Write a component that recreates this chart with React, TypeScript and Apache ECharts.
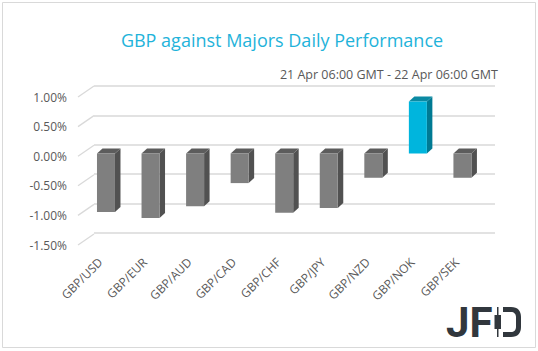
import React, { useEffect, useRef } from "react";
import * as echarts from "echarts";

const categories = ["GBP/USD", "GBP/EUR", "GBP/AUD", "GBP/CAD", "GBP/CHF", "GBP/JPY", "GBP/NZD", "GBP/NOK", "GBP/SEK"];
const performance = [-0.99, -1.09, -0.89, -0.5, -1.0, -0.92, -0.41, 0.88, -0.41];
const yTicks = [-1.5, -1.0, -0.5, 0, 0.5, 1.0];
const titleText = "GBP against Majors Daily Performance";
const subtitleText = "21 Apr 06:00 GMT - 22 Apr 06:00 GMT";

const FONT = "'Open Sans', 'Noto Sans', sans-serif";

// 3D geometry (pixels)
const WALL_DX = 16;
const WALL_DY = -11;
const BAR_OX = 5.7;
const BAR_OY = -2.7;
const BAR_W = 18;
const BAR_DX = 5.5;
const BAR_DY = -5;

echarts.graphic.registerShape(
  "jfdBowl",
  echarts.graphic.extendPath(
    "M0,0 L8,0 C15,0 18,4 18,10 L18,20 C18,26 15,30 8,30 L0,30 L0,25 L8,25 C11,25 13,23 13,20 L13,10 C13,7 11,5 8,5 L0,5 Z",
    {}
  )
);

export default function App() {
  const ref = useRef<HTMLDivElement>(null);
  useEffect(() => {
    if (!ref.current) return;
    const chart = echarts.init(ref.current, null, { renderer: "svg" });
    const barData = performance.map((v, i) => [i, v]);
    const wallData = yTicks.map((v) => [0, v]);
    const option: any = {
      animation: false,
      backgroundColor: "#ffffff",
      grid: [
        { left: 78, top: 97, width: 401, height: 148 },
        { left: 94, top: 86, width: 401, height: 147 },
      ],
      xAxis: [
        {
          type: "category",
          gridIndex: 0,
          data: categories,
          axisLine: { show: false },
          axisTick: { show: false },
          axisLabel: { rotate: 45, margin: 15, color: "#595959", fontSize: 12, fontFamily: FONT, interval: 0 },
        },
        { type: "category", gridIndex: 1, data: categories, show: false },
      ],
      yAxis: [
        {
          type: "value",
          gridIndex: 0,
          min: -1.5,
          max: 1.0,
          interval: 0.5,
          axisLine: { show: false },
          axisTick: { show: false },
          splitLine: { show: false },
          axisLabel: {
            margin: 11,
            color: "#595959",
            fontSize: 12,
            fontFamily: FONT,
            formatter: (v: number) => v.toFixed(2) + "%",
          },
        },
        {
          type: "value",
          gridIndex: 1,
          min: -1.5,
          max: 1.0,
          interval: 0.5,
          axisLine: { show: false },
          axisTick: { show: false },
          axisLabel: { show: false },
          splitLine: { show: true, lineStyle: { color: "#d9d9d9", width: 1.5 } },
        },
      ],
      series: [
        {
          type: "custom",
          name: "wall",
          xAxisIndex: 0,
          yAxisIndex: 0,
          data: wallData,
          z: 1,
          silent: true,
          renderItem: (params: any, api: any) => {
            const p = api.coord([0, api.value(1)]);
            const bw = api.size([1, 0])[0];
            const left = p[0] - bw / 2;
            return {
              type: "line",
              shape: { x1: left, y1: p[1], x2: left + WALL_DX, y2: p[1] + WALL_DY },
              style: { stroke: "#d9d9d9", lineWidth: 1.3 },
            };
          },
        },
        {
          type: "custom",
          name: "GBP",
          xAxisIndex: 0,
          yAxisIndex: 0,
          data: barData,
          z: 5,
          encode: { x: 0, y: 1 },
          renderItem: (params: any, api: any) => {
            const i = api.value(0);
            const v = api.value(1);
            const p0 = api.coord([i, 0]);
            const p1 = api.coord([i, v]);
            const cx = p0[0] + BAR_OX;
            const yz = p0[1] + BAR_OY;
            const yv = p1[1] + BAR_OY;
            const top = Math.min(yz, yv);
            const bot = Math.max(yz, yv);
            const xl = cx - BAR_W / 2;
            const xr = cx + BAR_W / 2;
            const pos = v > 0;
            const front = pos ? "#00b5dd" : "#7f7f7f";
            const side = pos ? "#007a93" : "#515151";
            const topC = pos ? "#0b8aa3" : "#5c5c5c";
            return {
              type: "group",
              children: [
                {
                  type: "polygon",
                  shape: {
                    points: [
                      [xr, top],
                      [xr + BAR_DX, top + BAR_DY],
                      [xr + BAR_DX, bot + BAR_DY],
                      [xr, bot],
                    ],
                  },
                  style: { fill: side },
                },
                {
                  type: "polygon",
                  shape: {
                    points: [
                      [xl, top],
                      [xl + BAR_DX, top + BAR_DY],
                      [xr + BAR_DX, top + BAR_DY],
                      [xr, top],
                    ],
                  },
                  style: { fill: topC },
                },
                {
                  type: "rect",
                  shape: { x: xl, y: top, width: BAR_W, height: bot - top },
                  style: { fill: front },
                },
              ],
            };
          },
        },
      ],
      graphic: [
        {
          type: "rect",
          shape: { x: 2.5, y: 2.5, width: 533, height: 345 },
          style: { fill: "none", stroke: "#d9d9d9", lineWidth: 1 },
          silent: true,
        },
        {
          type: "text",
          x: 282,
          y: 40,
          style: {
            text: titleText,
            fill: "#1fb3da",
            font: `18px ${FONT}`,
            textAlign: "center",
            textVerticalAlign: "middle",
          },
        },
        {
          type: "text",
          x: 498,
          y: 74,
          style: {
            text: subtitleText,
            fill: "#595959",
            font: `12.5px ${FONT}`,
            textAlign: "right",
            textVerticalAlign: "middle",
          },
        },
        {
          type: "text",
          x: 446,
          y: 322,
          style: {
            text: "JF",
            fill: "#31373d",
            font: `bold 42px Roboto, sans-serif`,
            textAlign: "left",
            textVerticalAlign: "middle",
          },
        },
        { type: "rect", shape: { x: 497, y: 307, width: 1.5, height: 30 }, style: { fill: "#31373d" } },
        { type: "rect", shape: { x: 494.5, y: 315, width: 6.5, height: 14 }, style: { fill: "#31373d" } },
        { type: "jfdBowl", x: 503, y: 307, style: { fill: "#31373d" } },
      ],
    };
    chart.setOption(option);
    return () => chart.dispose();
  }, []);
  return (
    <div
      ref={ref}
      style={{ position: "fixed", left: 0, top: 0, width: 538, height: 351 }}
    />
  );
}
